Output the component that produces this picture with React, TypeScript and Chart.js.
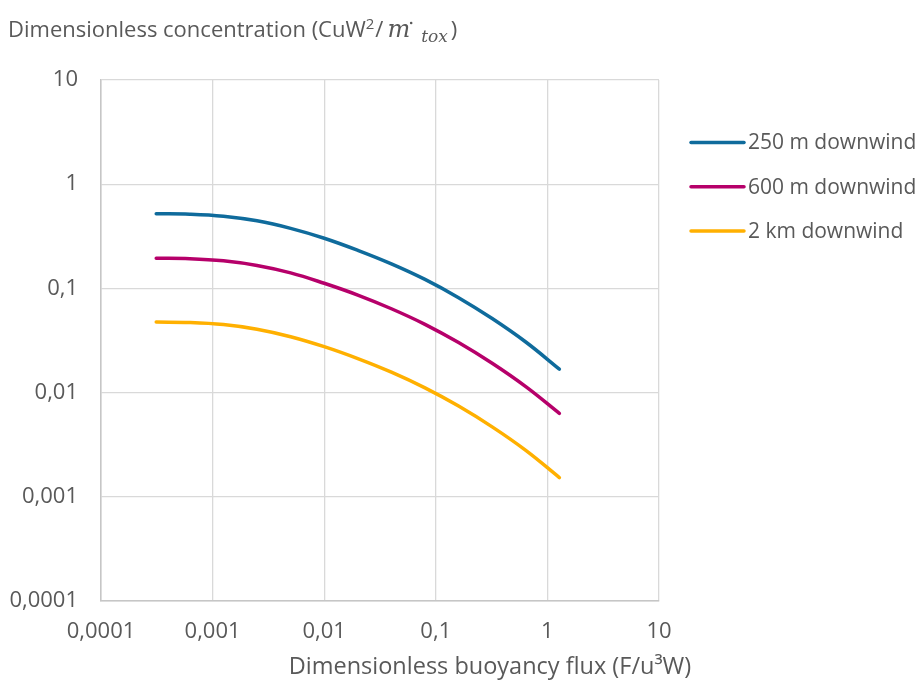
import React, { useEffect, useRef } from "react";
import { Chart, registerables } from "chart.js";

Chart.register(...registerables);

// ---- data ----
const buoyancyFlux = [0.0003125, 0.000625, 0.00125, 0.0025, 0.005, 0.01, 0.02, 0.04, 0.08, 0.16, 0.32, 0.64, 1.28];
const conc250m = [0.521, 0.516, 0.493, 0.445, 0.377, 0.303, 0.232, 0.172, 0.122, 0.0815, 0.0514, 0.0306, 0.0168];
const conc600m = [0.195, 0.193, 0.184, 0.166, 0.141, 0.112, 0.0863, 0.0638, 0.0452, 0.0302, 0.0191, 0.0114, 0.00632];
const conc2km = [0.0475, 0.0471, 0.045, 0.0406, 0.0344, 0.0276, 0.0212, 0.0157, 0.0111, 0.00743, 0.00469, 0.00279, 0.00153];
const seriesLabels = ["250 m downwind", "600 m downwind", "2 km downwind"];
const seriesColors = ["#0f6b9c", "#b6006a", "#ffb000"];
const decadeTicks = [0.0001, 0.001, 0.01, 0.1, 1, 10];
const xAxisTitle = "Dimensionless buoyancy flux (F/u³W)";
const yTitleMain = "Dimensionless concentration (CuW";

const TEXT = "#595959";
const FONT = '"Open Sans", sans-serif';

const fmt = (v: number) => String(v).replace(".", ",");

const decorPlugin = {
  id: "decor",
  afterDraw(chart: any) {
    const ctx: CanvasRenderingContext2D = chart.ctx;
    ctx.save();
    ctx.fillStyle = TEXT;
    ctx.textBaseline = "alphabetic";
    ctx.textAlign = "left";

    // Y title (top-left)
    let x = 8;
    const base = 37;
    ctx.font = `22px ${FONT}`;
    ctx.fillText(yTitleMain, x, base);
    x += ctx.measureText(yTitleMain).width;
    ctx.font = `15px ${FONT}`;
    ctx.fillText("2", x, base - 8);
    x += ctx.measureText("2").width + 1;
    ctx.font = `22px ${FONT}`;
    ctx.fillText("/", x, base);
    x += ctx.measureText("/").width + 4;
    ctx.font = 'italic 24px "DejaVu Serif"';
    ctx.fillText("m", x, base);
    const mw = ctx.measureText("m").width;
    ctx.beginPath();
    ctx.arc(x + mw + 1, base - 14, 1.3, 0, Math.PI * 2);
    ctx.fill();
    x += mw + 11;
    ctx.font = 'italic 17px "DejaVu Serif"';
    ctx.fillText("tox", x, base + 5);
    x += ctx.measureText("tox").width + 3;
    ctx.font = `22px ${FONT}`;
    ctx.fillText(")", x, base);

    // X title
    ctx.textAlign = "center";
    ctx.textBaseline = "middle";
    ctx.font = `23.5px ${FONT}`;
    ctx.fillText(xAxisTitle, 490, 667);

    // Legend
    ctx.textAlign = "left";
    const top = 142.5;
    const gap = 44.3;
    chart.data.datasets.forEach((ds: any, i: number) => {
      const y = top + i * gap;
      ctx.strokeStyle = ds.borderColor;
      ctx.lineWidth = 3.5;
      ctx.lineCap = "round";
      ctx.beginPath();
      ctx.moveTo(691, y);
      ctx.lineTo(744, y);
      ctx.stroke();
      ctx.fillStyle = TEXT;
      ctx.font = `21px ${FONT}`;
      ctx.fillText(ds.label, 748, y + 1);
    });
    ctx.restore();
  },
};

export default function App() {
  const ref = useRef<HTMLCanvasElement | null>(null);
  useEffect(() => {
    document.body.style.margin = "0";
    if (!ref.current) return;
    const series = [conc250m, conc600m, conc2km];
    const chart = new Chart(ref.current, {
      type: "line",
      data: {
        datasets: series.map((vals, i) => ({
          label: seriesLabels[i],
          data: buoyancyFlux.map((xv, j) => ({ x: xv, y: vals[j] })),
          borderColor: seriesColors[i],
          backgroundColor: seriesColors[i],
          borderWidth: 3.5,
          pointRadius: 0,
          tension: 0.4,
          borderCapStyle: "round",
          fill: false,
        })),
      },
      options: {
        responsive: false,
        animation: false,
        layout: { padding: { top: 80, right: 259, left: 0, bottom: 0 } },
        plugins: { legend: { display: false }, tooltip: { enabled: false }, title: { display: false } },
        scales: {
          x: {
            type: "logarithmic",
            min: 0.0001,
            max: 10,
            afterBuildTicks: (s: any) => {
              s.ticks = decadeTicks.map((v) => ({ value: v }));
            },
            afterFit: (s: any) => {
              s.height = 79;
            },
            ticks: {
              callback: (v: any) => fmt(Number(v)),
              color: TEXT,
              font: { family: FONT, size: 22 },
              padding: 18,
              maxRotation: 0,
              autoSkip: false,
            },
            grid: { color: "#d9d9d9", lineWidth: 1.3, drawTicks: false },
            border: { color: "#c6c6c6", width: 1.5 },
          },
          y: {
            type: "logarithmic",
            min: 0.0001,
            max: 10,
            afterBuildTicks: (s: any) => {
              s.ticks = decadeTicks.map((v) => ({ value: v }));
            },
            afterFit: (s: any) => {
              s.width = 101;
            },
            ticks: {
              callback: (v: any) => fmt(Number(v)),
              color: TEXT,
              font: { family: FONT, size: 22 },
              padding: 23,
              autoSkip: false,
            },
            grid: { color: "#d9d9d9", lineWidth: 1.3, drawTicks: false },
            border: { color: "#c6c6c6", width: 1.5 },
          },
        },
      },
      plugins: [decorPlugin],
    } as any);
    return () => chart.destroy();
  }, []);
  return (
    <div style={{ position: "absolute", left: 0, top: 0, width: 918, height: 680, background: "#fff" }}>
      <canvas ref={ref} width={918} height={680} style={{ width: 918, height: 680 }} />
    </div>
  );
}
